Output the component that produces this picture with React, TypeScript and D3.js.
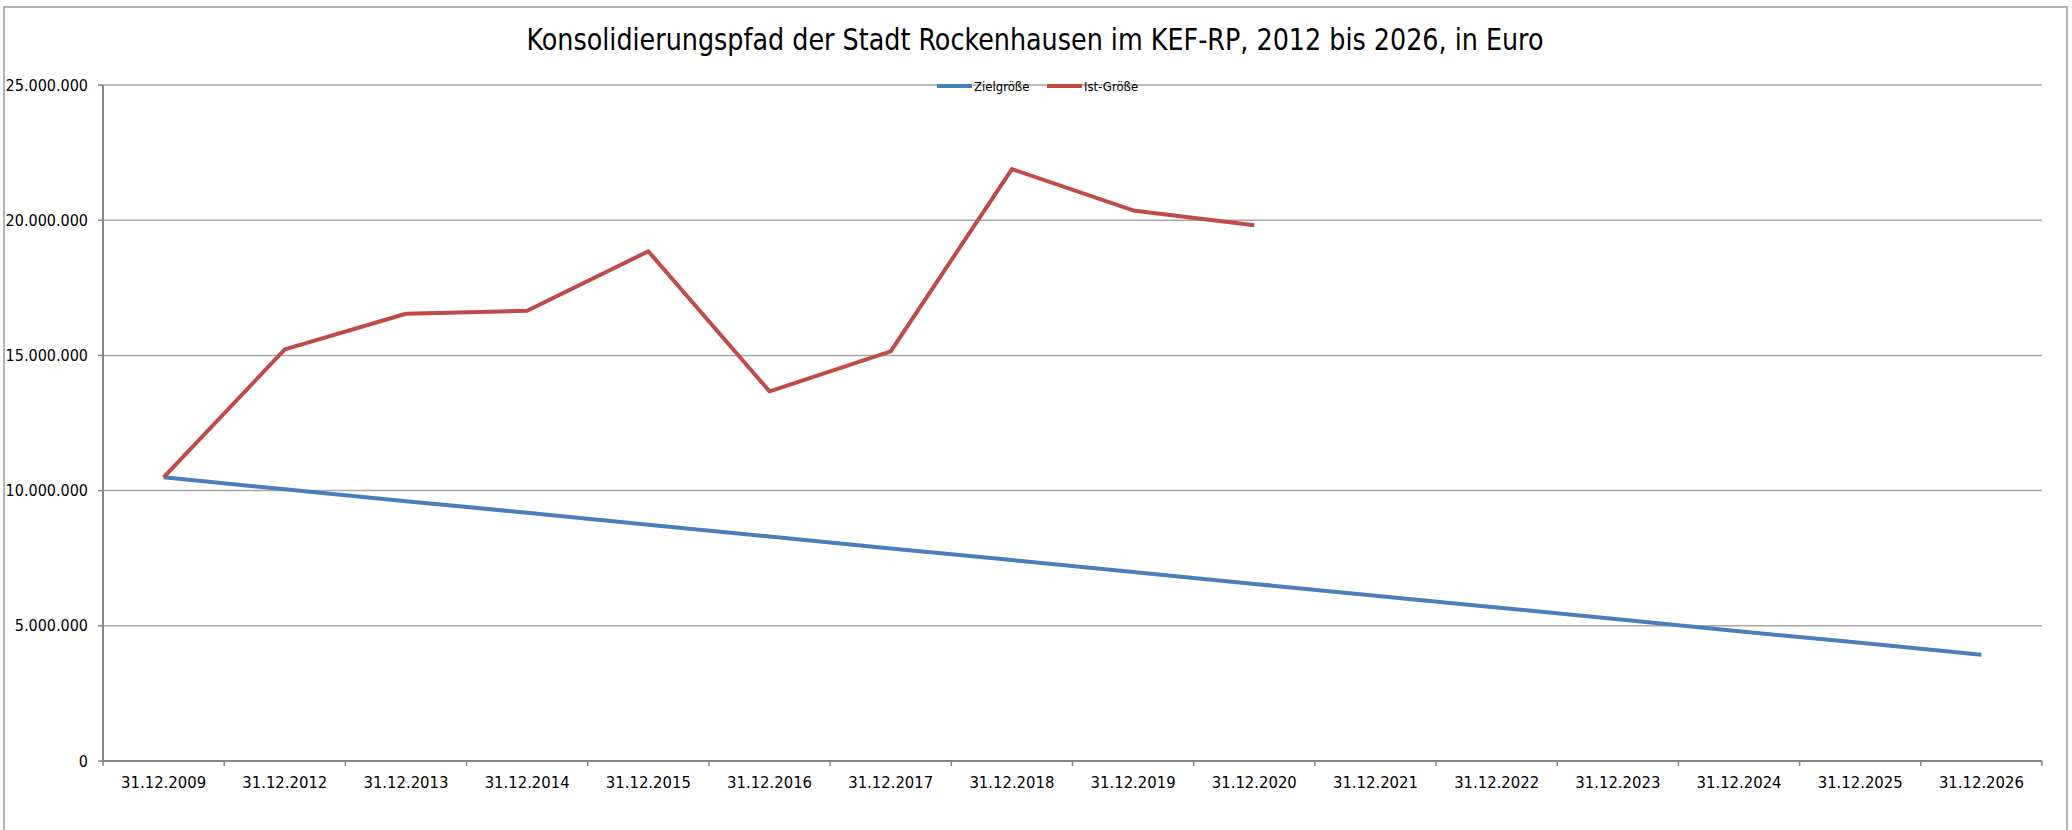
import React from "react";
import * as d3 from "d3";

const categories = [
  "31.12.2009", "31.12.2012", "31.12.2013", "31.12.2014", "31.12.2015", "31.12.2016",
  "31.12.2017", "31.12.2018", "31.12.2019", "31.12.2020", "31.12.2021", "31.12.2022",
  "31.12.2023", "31.12.2024", "31.12.2025", "31.12.2026",
];
const zielValues: (number | null)[] = [
  10490000, 10050000, 9610000, 9180000, 8740000, 8300000, 7860000, 7430000,
  6990000, 6550000, 6110000, 5680000, 5240000, 4800000, 4370000, 3930000,
];
const istValues: (number | null)[] = [
  10490000, 15220000, 16540000, 16650000, 18850000, 13670000, 15150000, 21890000,
  20360000, 19810000, null, null, null, null, null, null,
];
const yTicks = [0, 5000000, 10000000, 15000000, 20000000, 25000000];
const seriesNames = ["Zielgröße", "Ist-Größe"];
const seriesColors = ["#4A7EBB", "#BE4B48"];
const title = "Konsolidierungspfad der Stadt Rockenhausen im KEF-RP, 2012 bis 2026, in Euro";

const FONT = "'Liberation Sans Narrow', 'Arial Narrow', 'DejaVu Sans Condensed', sans-serif";

export default function App() {
  const W = 2072, H = 830;
  const left = 103, right = 2042, top = 85, bottom = 761;
  const x = d3.scaleBand<string>().domain(categories).range([left, right]).padding(0);
  const y = d3.scaleLinear().domain([0, 25000000]).range([bottom, top]);
  const fmt = (v: number) => (v === 0 ? "0" : d3.format(",")(v).replace(/,/g, "."));
  const cx = (c: string) => (x(c) as number) + x.bandwidth() / 2;
  const line = d3
    .line<number | null>()
    .defined((d) => d !== null)
    .x((_, i) => cx(categories[i]))
    .y((d) => y(d as number));
  const series = [zielValues, istValues];
  const boundaries = categories.map((c) => x(c) as number).concat([right]);

  return (
    <svg width={W} height={H} style={{ position: "absolute", left: 0, top: 0, background: "#fff" }}>
      <rect x={0} y={0} width={W} height={H} fill="#fff" />
      <rect x={4} y={7} width={2063} height={840} fill="#fff" stroke="#9a9a9a" strokeWidth={1.5} />
      <text x={1035} y={50} textAnchor="middle" fontFamily={FONT} fontSize={30} fill="#000"
        textLength={1017} lengthAdjust="spacingAndGlyphs">
        {title}
      </text>
      {yTicks.map((t) => (
        <g key={t}>
          {t > 0 && <line x1={left} x2={right} y1={y(t)} y2={y(t)} stroke="#a6a6a6" strokeWidth={1.5} />}
          <line x1={left - 5} x2={left} y1={y(t)} y2={y(t)} stroke="#868686" strokeWidth={1.5} />
          <text x={88} y={y(t)} dy="0.35em" textAnchor="end" fontFamily={FONT} fontSize={16} fill="#000">
            {fmt(t)}
          </text>
        </g>
      ))}
      <line x1={left} x2={left} y1={top} y2={bottom} stroke="#868686" strokeWidth={2} />
      <line x1={left} x2={right} y1={bottom} y2={bottom} stroke="#868686" strokeWidth={2} />
      {boundaries.map((b, i) => (
        <line key={i} x1={b} x2={b} y1={bottom} y2={bottom + 5} stroke="#868686" strokeWidth={1.5} />
      ))}
      {categories.map((c) => (
        <text key={c} x={cx(c)} y={782} dy="0.35em" textAnchor="middle" fontFamily={FONT} fontSize={16.5} fill="#000">
          {c}
        </text>
      ))}
      {series.map((s, i) => (
        <path key={i} d={line(s) || ""} fill="none" stroke={seriesColors[i]} strokeWidth={4} strokeLinejoin="round" strokeLinecap="butt" />
      ))}
      {seriesNames.map((n, i) => {
        const lx = i === 0 ? 937 : 1047;
        return (
          <g key={n}>
            <line x1={lx} x2={lx + 35} y1={86} y2={86} stroke={seriesColors[i]} strokeWidth={4} />
            <text x={lx + 37} y={86} dy="0.35em" fontFamily={FONT} fontSize={13} fill="#000">
              {n}
            </text>
          </g>
        );
      })}
    </svg>
  );
}
